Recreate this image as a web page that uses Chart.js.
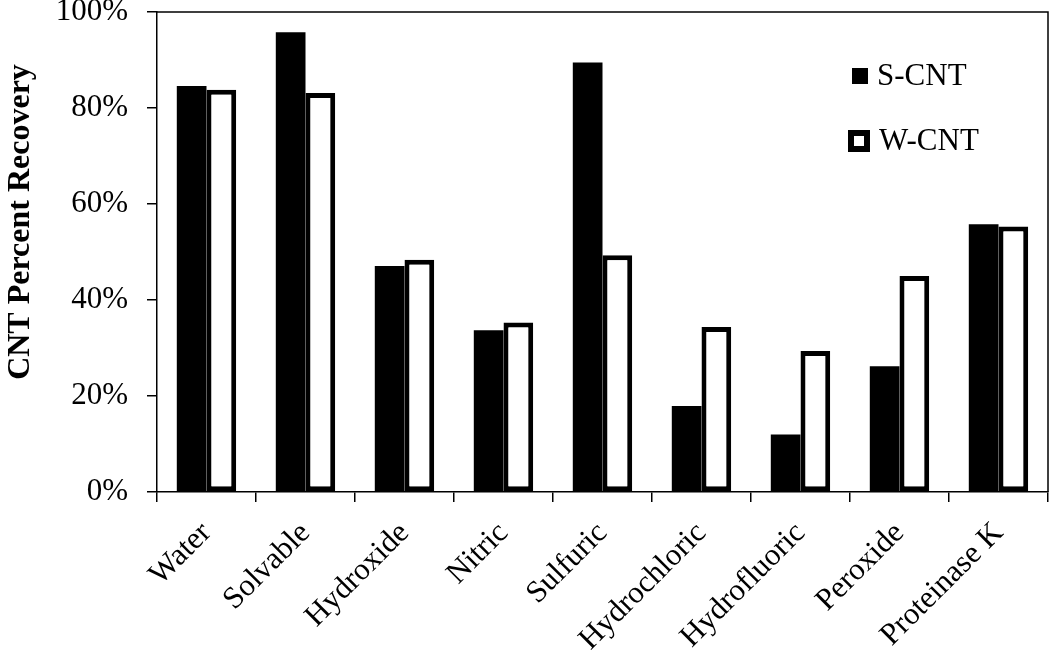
<!DOCTYPE html>
<html>
<head>
<meta charset="utf-8">
<script src="https://cdn.jsdelivr.net/npm/chart.js@4"></script>
<style>
    html, body { margin: 0; padding: 0; background: #fff; }
    #wrap { width: 1050px; height: 656px; }
</style>
</head>
<body>
<div id="wrap"><canvas id="chart"></canvas></div>
<script>
// Chart data
const categories = ['Water', 'Solvable', 'Hydroxide', 'Nitric', 'Sulfuric', 'Hydrochloric', 'Hydrofluoric', 'Peroxide', 'Proteinase K'];
const sCnt = [84.6, 95.8, 47.1, 33.7, 89.5, 17.9, 12.0, 26.2, 55.8];
const wCnt = [83.8, 83.1, 48.4, 35.3, 49.3, 34.4, 29.4, 45.0, 55.3];
const yTicks = [0, 20, 40, 60, 80, 100];
const yTitle = 'CNT Percent Recovery';

const FONT = '"Liberation Serif", "Times New Roman", serif';

// Frame, y title and legend drawn on top
const extras = {
    id: 'extras',
    afterDraw(chart) {
        const ctx = chart.ctx;
        const area = chart.chartArea;
        ctx.save();
        // plot frame (top and right)
        ctx.strokeStyle = '#000';
        ctx.lineWidth = 1.5;
        ctx.beginPath();
        ctx.moveTo(area.left, area.top);
        ctx.lineTo(area.right, area.top);
        ctx.lineTo(area.right, area.bottom);
        ctx.stroke();

        // y axis title
        ctx.save();
        ctx.translate(21, 222);
        ctx.rotate(-Math.PI / 2);
        ctx.font = 'bold 32px ' + FONT;
        ctx.textAlign = 'center';
        ctx.textBaseline = 'middle';
        ctx.fillStyle = '#000';
        ctx.fillText(yTitle, 0, 0);
        ctx.restore();

        // legend entries
        const items = chart.data.datasets;
        ctx.font = '31px ' + FONT;
        ctx.textBaseline = 'middle';
        items.forEach((ds, i) => {
            const y = 76 + i * 65;
            ctx.fillStyle = '#000';
            if (ds.backgroundColor === '#ffffff') {
                ctx.fillRect(848, y - 11, 22, 22);
                ctx.fillStyle = '#fff';
                ctx.fillRect(854, y - 5, 10, 10);
            } else {
                ctx.fillRect(852, y - 8, 16, 16);
            }
            ctx.fillStyle = '#000';
            ctx.fillText(ds.label, 877 + i * 2, y + 1);
        });
        ctx.restore();
    }
};

const ctx = document.getElementById('chart');
new Chart(ctx, {
    type: 'bar',
    data: {
        labels: categories,
        datasets: [{
            label: 'S-CNT',
            data: sCnt,
            backgroundColor: '#000000',
            borderWidth: 0,
            categoryPercentage: 0.6,
            barPercentage: 1.0
        }, {
            label: 'W-CNT',
            data: wCnt,
            backgroundColor: '#ffffff',
            borderColor: '#000000',
            borderWidth: 5,
            borderSkipped: false,
            categoryPercentage: 0.6,
            barPercentage: 1.0
        }]
    },
    options: {
        responsive: true,
        maintainAspectRatio: false,
        animation: false,
        layout: {
            padding: { top: 12, right: 2, left: 0, bottom: 0 }
        },
        plugins: {
            legend: { display: false },
            tooltip: { enabled: false }
        },
        scales: {
            y: {
                min: 0,
                max: 100,
                afterBuildTicks: function(axis) {
                    axis.ticks = yTicks.map(v => ({ value: v }));
                },
                afterFit: function(axis) {
                    axis.width = 157;
                    axis.paddingTop = 0;
                    axis.paddingBottom = 0;
                },
                border: { display: true, color: '#000', width: 1.5 },
                grid: {
                    drawOnChartArea: false,
                    drawTicks: true,
                    tickLength: 10,
                    color: '#000',
                    lineWidth: 1.5
                },
                ticks: {
                    callback: v => v + '%',
                    color: '#000',
                    padding: 19,
                    font: { family: FONT, size: 31 }
                }
            },
            x: {
                afterFit: function(axis) {
                    axis.height = 164;
                    axis.paddingLeft = 0;
                    axis.paddingRight = 0;
                },
                border: { display: true, color: '#000', width: 1.5 },
                grid: {
                    offset: true,
                    drawOnChartArea: false,
                    drawTicks: true,
                    tickLength: 10,
                    color: '#000',
                    lineWidth: 1.5
                },
                ticks: {
                    color: '#000',
                    minRotation: 45,
                    maxRotation: 45,
                    padding: 13,
                    font: { family: FONT, size: 31 }
                }
            }
        }
    },
    plugins: [extras]
});
</script>
</body>
</html>
